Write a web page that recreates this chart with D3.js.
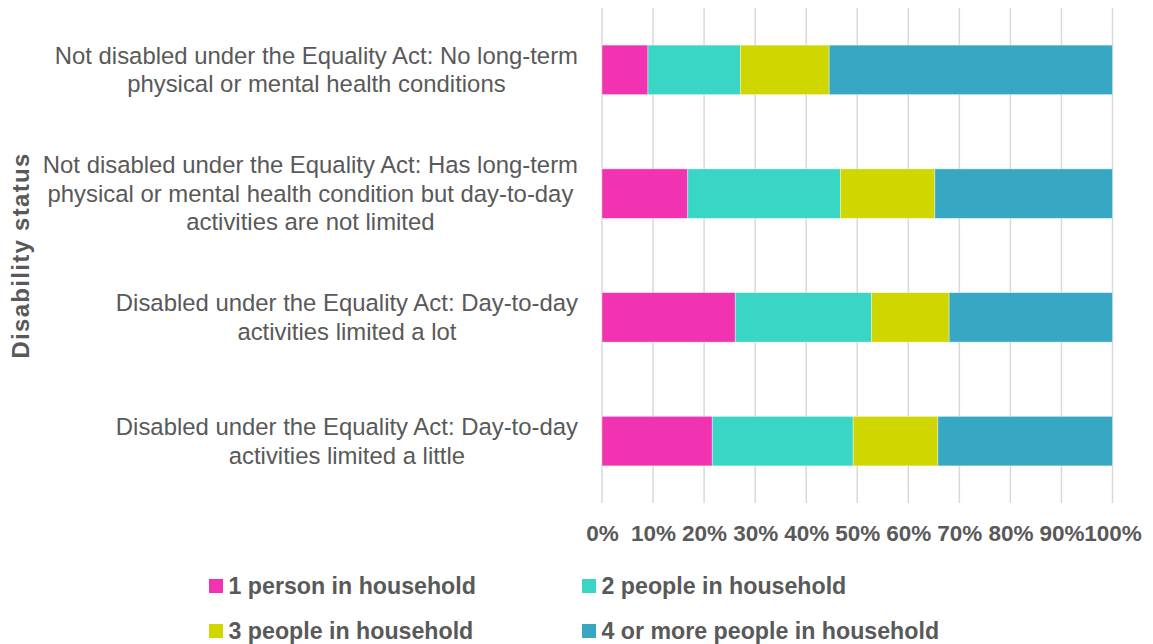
<!DOCTYPE html>
<html>
<head>
<meta charset="utf-8">
<script src="https://cdn.jsdelivr.net/npm/d3@7"></script>
<style>
  html, body { margin: 0; padding: 0; background: #fff; }
  svg { display: block; font-family: Arial, "Liberation Sans", sans-serif; }
</style>
</head>
<body>
<svg id="chart" width="1153" height="644"></svg>
<script>
// ── DATA ─────────────────────────────────────────────────────────────────────
const categories = [
  ['Not disabled under the Equality Act: No long-term', 'physical or mental health conditions'],
  ['Not disabled under the Equality Act: Has long-term', 'physical or mental health condition but day-to-day', 'activities are not limited'],
  ['Disabled under the Equality Act: Day-to-day', 'activities limited a lot'],
  ['Disabled under the Equality Act: Day-to-day', 'activities limited a little']
];
const seriesNames = ['1 person in household', '2 people in household', '3 people in household', '4 or more people in household'];
const onePerson   = [9.0, 16.8, 26.1, 21.6];
const twoPeople   = [18.1, 29.9, 26.7, 27.6];
const threePeople = [17.4, 18.5, 15.2, 16.6];
const fourPlus    = [55.5, 34.8, 32.0, 34.2];
const xTicks = [0, 10, 20, 30, 40, 50, 60, 70, 80, 90, 100];
const axisTitle = 'Disability status';

// ── COLOURS ──────────────────────────────────────────────────────────────────
const colors = ['#f233b1', '#39d5c5', '#cfd600', '#38a7c4'];
const textCol = '#595959';

// ── SETUP ────────────────────────────────────────────────────────────────────
const svg = d3.select('#chart');
const plot = { left: 602, right: 1112.5, top: 8, bottom: 503 };

const rows = categories.map((c, i) => ({
  idx: i,
  [seriesNames[0]]: onePerson[i],
  [seriesNames[1]]: twoPeople[i],
  [seriesNames[2]]: threePeople[i],
  [seriesNames[3]]: fourPlus[i]
}));

const x = d3.scaleLinear().domain([0, 100]).range([plot.left, plot.right]);
const y = d3.scaleBand().domain(d3.range(categories.length))
  .range([plot.top, plot.bottom]).paddingInner(0.6).paddingOuter(0.3);

const stacked = d3.stack().keys(seriesNames)(rows);

// gridlines
svg.append('g').selectAll('line')
  .data(xTicks)
  .join('line')
  .attr('x1', d => x(d)).attr('x2', d => x(d))
  .attr('y1', plot.top).attr('y2', plot.bottom)
  .attr('stroke', '#d9d9d9')
  .attr('stroke-width', 1.5);

// bars
svg.append('g').selectAll('g')
  .data(stacked)
  .join('g')
  .attr('fill', (d, i) => colors[i])
  .selectAll('rect')
  .data(d => d)
  .join('rect')
  .attr('x', d => x(d[0]))
  .attr('width', d => x(d[1]) - x(d[0]))
  .attr('y', d => y(d.data.idx))
  .attr('height', y.bandwidth())
  .attr('stroke', '#ffffff')
  .attr('stroke-opacity', 0.5)
  .attr('stroke-width', 0.75);

// x axis labels
const xAxis = d3.axisBottom(x).tickValues(xTicks).tickFormat(d => d + '%').tickSize(0).tickPadding(0);
const gx = svg.append('g').attr('transform', `translate(0,${plot.bottom + 22})`).call(xAxis);
gx.select('.domain').remove();
gx.selectAll('text')
  .attr('dy', '0.71em')
  .attr('font-size', 22.5)
  .attr('font-weight', 700)
  .attr('font-family', 'Arial, "Liberation Sans", sans-serif')
  .attr('fill', textCol);

// category labels, centred on their widest line, right edge at 578
const labelRight = 578;
const lineH = 28.5;
categories.forEach((lines, i) => {
  const cy = y(i) + y.bandwidth() / 2;
  const t = svg.append('text')
    .attr('font-size', 23.9)
    .attr('fill', textCol)
    .attr('text-anchor', 'middle');
  lines.forEach((ln, j) => {
    t.append('tspan')
      .attr('y', cy + (j - (lines.length - 1) / 2) * lineH)
      .attr('dy', '0.35em')
      .text(ln);
  });
  let maxW = 0;
  t.selectAll('tspan').each(function() { maxW = Math.max(maxW, this.getComputedTextLength()); });
  t.selectAll('tspan').attr('x', labelRight - maxW / 2);
});

// axis title
svg.append('text')
  .attr('transform', `translate(29,${(plot.top + plot.bottom) / 2}) rotate(-90)`)
  .attr('text-anchor', 'middle')
  .attr('font-size', 24)
  .attr('font-weight', 700)
  .attr('letter-spacing', 1.3)
  .attr('fill', textCol)
  .text(axisTitle);

// legend
const legendPos = [[209, 586], [582, 586], [209, 631], [582, 631]];
const legend = svg.append('g').selectAll('g')
  .data(seriesNames)
  .join('g')
  .attr('transform', (d, i) => `translate(${legendPos[i][0]},${legendPos[i][1]})`);
legend.append('rect')
  .attr('x', 0).attr('y', -7)
  .attr('width', 14).attr('height', 14)
  .attr('fill', (d, i) => colors[i]);
legend.append('text')
  .attr('x', 19.5)
  .attr('dy', '0.35em')
  .attr('font-size', 23.2)
  .attr('font-weight', 700)
  .attr('fill', textCol)
  .text(d => d);
</script>
</body>
</html>
